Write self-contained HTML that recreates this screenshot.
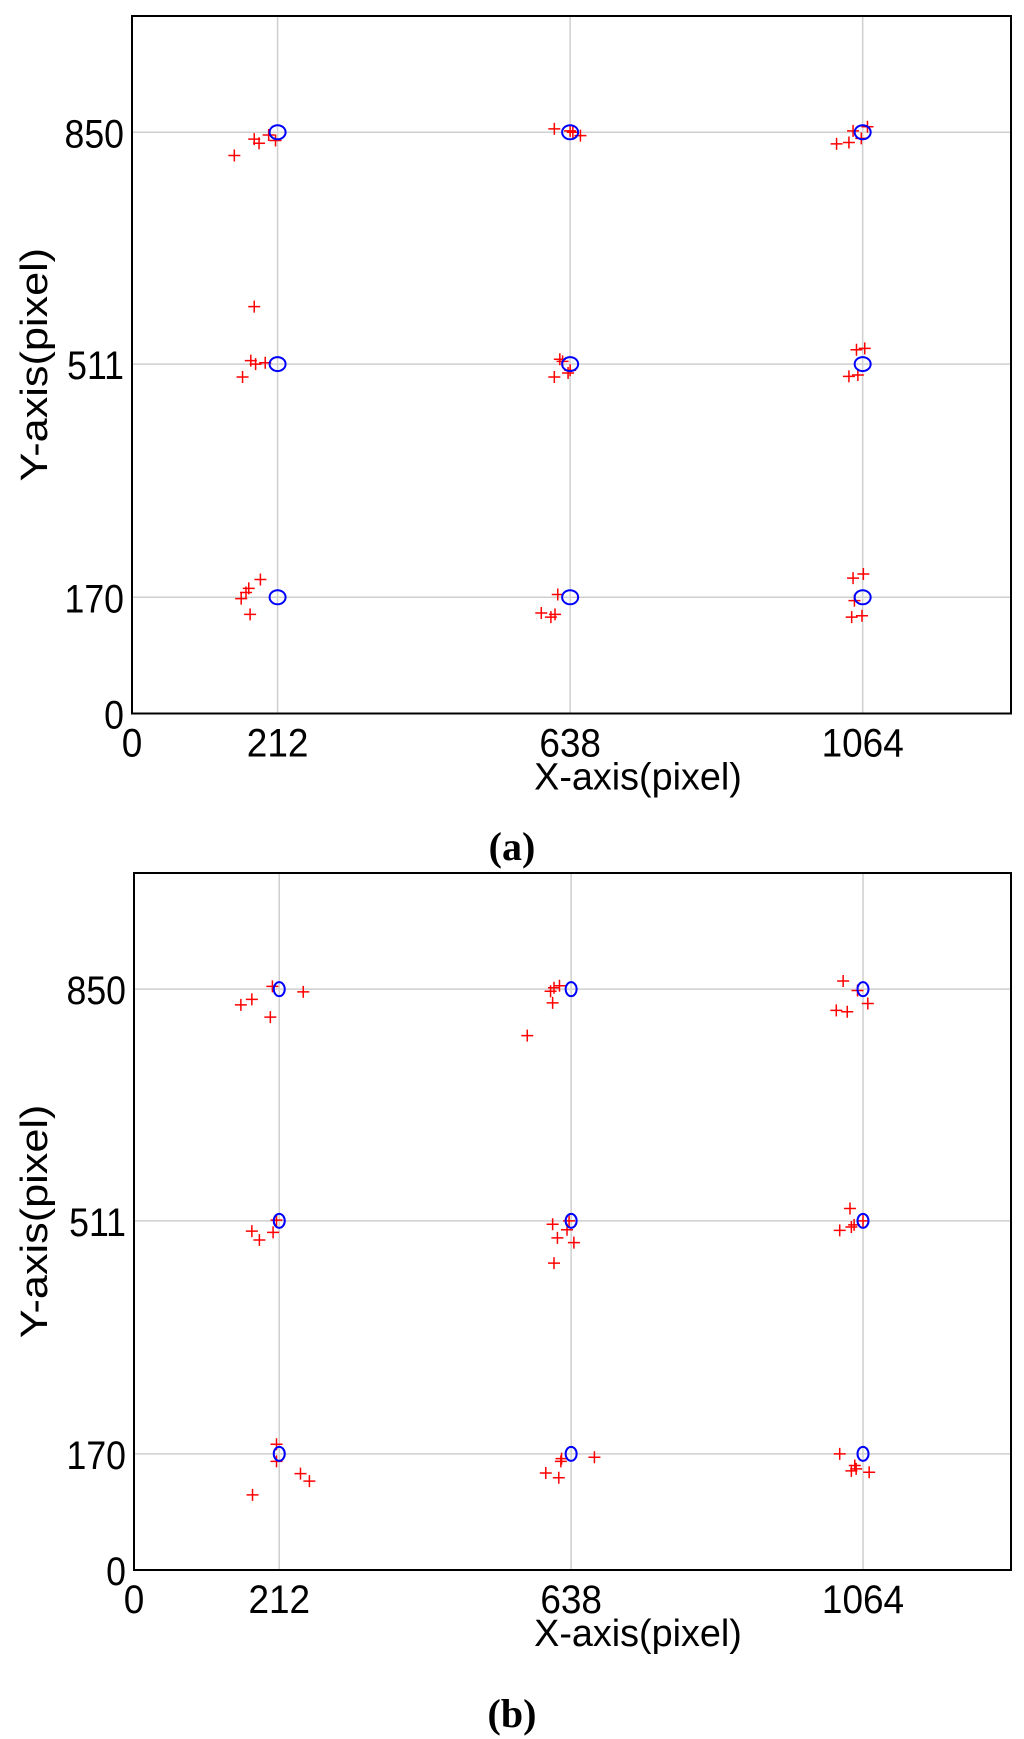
<!DOCTYPE html>
<html><head><meta charset="utf-8"><style>
html,body{margin:0;padding:0;background:#fff;}
svg{display:block;}
</style></head><body>
<svg id="fig" width="1024" height="1739" viewBox="0 0 1024 1739" xmlns="http://www.w3.org/2000/svg" font-family="Liberation Sans, sans-serif"></svg>
<script>
const xTicks = [0, 212, 638, 1064];
const yTicks = [0, 170, 511, 850];
const refX = [212, 638, 1064, 212, 638, 1064, 212, 638, 1064];
const refY = [850, 850, 850, 511, 511, 511, 170, 170, 170];
const aX = [149,178,185,199,209,178, 615,638,642,653, 1026,1044,1050,1062,1071, 161,173,180,194, 615,623,627,635,638, 1044,1055,1067,1057, 159,166,170,187,172, 596,610,616,620, 1050,1065,1052,1048,1063];
const aY = [816,840,834,846,838,595, 855,852,850,845, 833,835,852,841,858, 492,516,511,513, 492,518,515,498,502, 493,532,534,495, 168,177,183,196,145, 147,141,145,174, 198,204,165,141,143];
const bX = [156,172,199,202,247, 574,608,611,613,621, 1025,1041,1035,1056,1071, 172,183,203,208, 611,618,632,642,613,635, 1030,1045,1047,1051,1064, 208,208,173,243,256, 601,620,624,623,672, 1030,1047,1052,1054,1073];
const bY = [827,835,809,854,846, 782,847,830,852,855, 819,817,862,848,829, 496,483,494,512, 506,486,498,479,449,511, 497,529,502,505,511, 184,159,110,141,130, 142,135,163,159,165, 170,145,153,148,143];

const NS = 'http://www.w3.org/2000/svg';
const svg = document.getElementById('fig');
function mk(tag, attrs, parent) {
  const e = document.createElementNS(NS, tag);
  for (const k in attrs) e.setAttribute(k, attrs[k]);
  parent.appendChild(e);
  return e;
}
function panel(id, L, R, T, B, xs, ys, crX, crY, label, labelY, crx, cry) {
  const g = mk('g', {}, svg);
  
  
  const X = v => L + (v / 1280) * (R - L);
  const Y = v => B - (v / 1020) * (B - T);
  xs.forEach(t => { if (t === 0) return;
    const l = mk('line', {x1: X(t), x2: X(t), y1: T, y2: B, stroke: '#cfcfcf', 'stroke-width': 1.5}, g);
    
    
  });
  ys.forEach(t => { if (t === 0) return;
    const l = mk('line', {x1: L, x2: R, y1: Y(t), y2: Y(t), stroke: '#cfcfcf', 'stroke-width': 1.5}, g);
    
    
  });
  for (let i = 0; i < crX.length; i++) {
    const cx = X(crX[i]), cy = Y(crY[i]);
    const p = mk('path', {d: `M${cx-6},${cy}H${cx+6}M${cx},${cy-6}V${cy+6}`, stroke: '#ff0000', 'stroke-width': 1.5, fill: 'none'}, g);
    
    
  }
  for (let i = 0; i < refX.length; i++) {
    const c = mk('ellipse', {cx: X(refX[i]), cy: Y(refY[i]), rx: crx, ry: cry, stroke: '#0000ff', 'stroke-width': 2, fill: 'none'}, g);
    
    
  }
  const f = mk('rect', {x: L, y: T, width: R - L, height: B - T, fill: 'none', stroke: '#000', 'stroke-width': 2}, g);
  
  
  xs.forEach(t => {
    const tx = mk('text', {x: 0, y: 0, 'font-size': 33, 'text-anchor': 'middle', fill: '#000', transform: `translate(${X(t)},${B + 43}) scale(1.12,1.22)`}, g);
    tx.textContent = t;
    
    
  });
  ys.forEach(t => {
    const tx = mk('text', {x: 0, y: 0, 'font-size': 33, 'text-anchor': 'end', fill: '#000', transform: `translate(${L - 8},${Y(t) + 15}) scale(1.08,1.22)`}, g);
    tx.textContent = t;
    
    
  });
  const xt = mk('text', {x: 0, y: 0, 'font-size': 32, 'text-anchor': 'middle', fill: '#000', transform: `translate(638,${B + 76}) scale(1.18,1.2)`}, g);
  xt.textContent = 'X-axis(pixel)';
  
  
  const cyT = (T + B) / 2;
  const yt = mk('text', {x: 0, y: 0, 'font-size': 32, 'text-anchor': 'middle', fill: '#000', transform: `translate(47,${cyT}) rotate(-90) scale(1.35,1.2)`}, g);
  yt.textContent = 'Y-axis(pixel)';
  
  
  const cap = mk('text', {x: 512, y: labelY, 'font-size': 40, 'font-weight': 'bold', 'font-family': 'Liberation Serif, serif', 'text-anchor': 'middle', fill: '#000'}, g);
  cap.textContent = label;
  
  
}
panel('a', 132, 1011, 16, 713.5, xTicks, yTicks, aX, aY, '(a)', 860, 8, 7);
panel('b', 134, 1011, 873, 1570, xTicks, yTicks, bX, bY, '(b)', 1727, 5.5, 7);
</script>
</body></html>
